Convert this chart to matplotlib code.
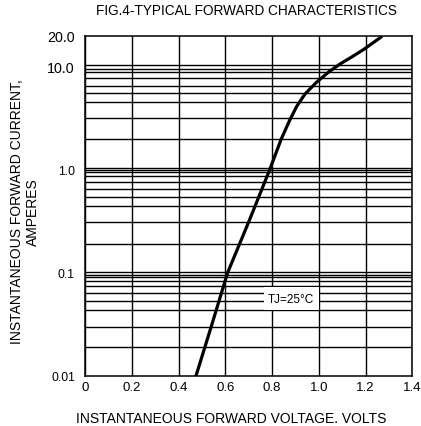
import numpy as np
import matplotlib.pyplot as plt
from matplotlib import rcParams
from matplotlib.patches import Rectangle

rcParams['font.family'] = ['Liberation Sans', 'DejaVu Sans']
rcParams['font.size'] = 8.5

# curve (Tj = 25 C)
volts = [0.475, 0.54, 0.61, 0.70, 0.79, 0.84, 0.875, 0.905, 0.94, 0.99, 1.04, 1.09, 1.14, 1.19, 1.265]
amps = [0.01, 0.03, 0.1, 0.31, 1.0, 2.0, 3.0, 4.1, 5.4, 7.05, 8.8, 10.6, 12.4, 14.6, 19.3]

x_ticks = [0, 0.2, 0.4, 0.6, 0.8, 1.0, 1.2, 1.4]
x_labels = ['0', '0.2', '0.4', '0.6', '0.8', '1.0', '1.2', '1.4']
y_ticks = [0.01, 0.1, 1, 10, 20]
y_labels = ['0.01', '0.1', '1.0', '10.0', '20.0']

# horizontal rulings as drawn on the original sheet
y_grid = [10.5, 10, 9.5, 8.9, 7.7, 6.5, 5.5, 4.5, 3.15, 2.0,
          1.04, 0.99, 0.94, 0.875, 0.765, 0.65, 0.54, 0.44, 0.31, 0.19,
          0.101, 0.0956, 0.090, 0.0836, 0.0748, 0.0635, 0.0535, 0.0434, 0.030, 0.019]

fig = plt.figure(figsize=(4.21, 4.27), dpi=100)
ax = fig.add_axes([0.2019, 0.1178, 0.9793 - 0.2019, 0.914 - 0.1178])

ax.set_yscale('log')
ax.set_xlim(0, 1.4)
ax.set_ylim(0.01, 20)

ax.set_xticks(x_ticks, x_labels)
ax.set_yticks(y_ticks, y_labels)
ax.set_yticks(y_grid, minor=True)
ax.yaxis.set_minor_formatter(plt.NullFormatter())
ax.tick_params(which='both', length=0)
ax.tick_params(axis='x', pad=3.5, labelsize=9.5)
ax.tick_params(axis='y', pad=7.2, labelsize=8.8)
# the two top labels are printed a bit larger on the sheet
for lab in ax.get_yticklabels():
    if lab.get_text() in ('10.0', '20.0'):
        lab.set_fontsize(10.3)

ax.xaxis.grid(True, color='black', linewidth=1.0)
ax.yaxis.grid(True, which='minor', color='black', linewidth=1.0)
for s in ax.spines.values():
    s.set_linewidth(1.1)

ax.plot(volts, amps, color='black', linewidth=2.3, zorder=3)

# white patch behind the temperature note
ax.add_patch(Rectangle((0.547, 0.194), 0.168, 0.068, transform=ax.transAxes,
                       facecolor='white', edgecolor='none', zorder=2.5))
ax.text(0.88, 0.056, 'TJ=25\u00b0C', ha='center', va='center', fontsize=8.5, zorder=4)

fig.text(246 / 421, 1 - 11 / 427, 'FIG.4-TYPICAL FORWARD CHARACTERISTICS',
         fontsize=9.8, ha='center', va='center')
ax.set_xlabel('INSTANTANEOUS FORWARD VOLTAGE. VOLTS', fontsize=10)
ax.xaxis.set_label_coords(0.448, -0.103)
ax.set_ylabel('INSTANTANEOUS FORWARD CURRENT,\nAMPERES', fontsize=10, linespacing=1.15)
ax.yaxis.set_label_coords(-0.1376, 0.485)

plt.savefig('out.png', dpi=100)
